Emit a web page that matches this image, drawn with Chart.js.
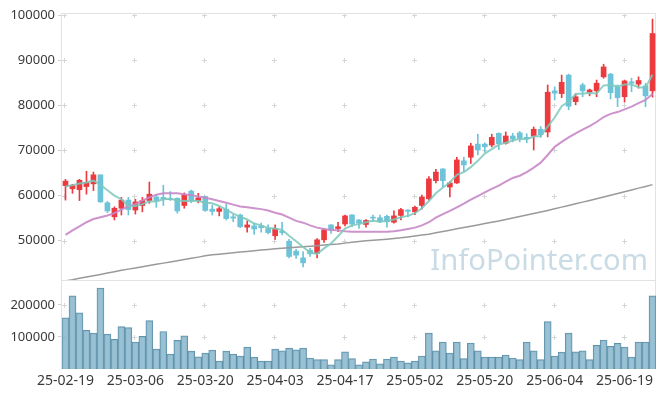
<!DOCTYPE html>
<html><head><meta charset="utf-8">
<script src="https://cdn.jsdelivr.net/npm/chart.js@4.4.1/dist/chart.umd.min.js"></script>
<style>html,body{margin:0;padding:0;background:#fff;overflow:hidden;}</style>
</head><body>
<canvas id="c" width="665" height="398" style="display:block;width:665px;height:398px"></canvas>
<script>
const dates = ['25-02-19','25-02-20','25-02-21','25-02-24','25-02-25','25-02-26','25-02-27','25-02-28',
'25-03-04','25-03-05','25-03-06','25-03-07','25-03-10','25-03-11','25-03-12','25-03-13','25-03-14','25-03-17','25-03-18','25-03-19','25-03-20','25-03-21','25-03-24','25-03-25','25-03-26','25-03-27','25-03-28','25-03-31',
'25-04-01','25-04-02','25-04-03','25-04-04','25-04-07','25-04-08','25-04-09','25-04-10','25-04-11','25-04-14','25-04-15','25-04-16','25-04-17','25-04-18','25-04-21','25-04-22','25-04-23','25-04-24','25-04-25','25-04-28','25-04-29','25-04-30',
'25-05-02','25-05-07','25-05-08','25-05-09','25-05-12','25-05-13','25-05-14','25-05-15','25-05-16','25-05-19','25-05-20','25-05-21','25-05-22','25-05-23','25-05-26','25-05-27','25-05-28','25-05-29','25-05-30',
'25-06-02','25-06-04','25-06-05','25-06-09','25-06-10','25-06-11','25-06-12','25-06-13','25-06-16','25-06-17','25-06-18','25-06-19','25-06-20','25-06-23','25-06-24','25-06-25'];

const openPrices = [62200,61500,61300,62000,62600,64600,58400,55300,57200,59000,56800,57800,58900,59700,59600,59300,59400,57800,61000,58900,
59800,57000,56500,57000,55300,55700,53000,53300,53300,52700,51100,52100,49900,47700,46200,47900,47200,50200,53500,52700,
53700,55700,54600,53600,55200,55100,55400,54100,55600,56800,56400,57800,59300,63300,65900,61900,62800,67700,68500,71400,
71400,71200,73800,71600,73200,73900,72900,73200,74700,74100,83200,82600,86700,80800,84500,82900,83200,86300,86900,84100,
81900,85200,84700,84300,83200];
const highPrices = [63600,62500,63600,65400,65200,64600,58700,57500,59600,59600,59200,59600,63000,60100,62300,60900,59500,60600,61200,60500,
59900,57900,57500,58100,55800,55900,54400,53900,53900,53500,53500,54100,50300,48100,47600,48300,50500,52700,53600,54100,
55700,55800,54700,54700,55700,55700,55700,56600,57200,56900,57700,60100,64200,65800,66000,63100,68500,68500,71600,73600,
71700,73600,73900,74100,73800,74200,73700,75200,75300,84500,84100,86700,86900,82600,84900,83600,85600,89100,87100,84500,
85600,86000,86300,84900,99100];
const lowPrices = [59000,60500,58900,60300,61100,58500,56200,54600,55700,55700,55900,56400,58300,57400,57800,58900,56100,57200,58400,58400,
56500,55700,55500,54600,54200,52900,51900,51400,51900,51500,50300,51300,46200,46100,44200,46500,46200,49600,51600,52000,
53300,53100,52700,53000,54200,54000,53000,53900,54600,55300,55800,57000,59000,62800,61900,59700,62700,65300,67100,69000,
69700,70800,70200,71400,71900,71900,71700,70100,72900,73000,81200,81700,79000,80100,81900,82100,81900,86000,81400,79700,
80700,83000,83800,79700,81800];
const closePrices = [63200,62300,63400,62900,64600,58600,56600,57200,59000,56900,58600,58900,60300,58900,59300,59100,56600,60100,58900,59500,
56700,56500,57100,54900,55000,53100,53500,52600,52900,51800,52700,51800,46500,46800,45100,47100,50200,52400,52400,53100,
55500,53700,53900,54500,55000,54200,54200,55500,56900,56500,57400,59700,63700,65200,63300,62800,67900,66800,71000,70100,
70800,72900,71500,73200,72500,72700,72600,74700,73500,82900,82700,85100,79800,81900,83200,83400,84900,88500,82800,81700,
85400,84900,85500,82100,95900];
const volumes = [160100,228500,175400,121100,111900,253000,108900,92600,132500,129400,84300,101800,150900,62000,117200,46600,89600,103700,55800,38300,
49700,58900,25100,55800,46600,40500,68100,37400,25100,25100,62000,56700,65000,59800,65000,34400,29100,29100,13300,29100,
53700,32200,12900,22100,31300,15900,31300,37400,25100,19000,25100,40500,111900,56700,84300,49700,84300,32200,81300,56700,
37400,37400,37400,43600,34400,29100,84300,56700,29100,147800,40500,52800,111900,53700,56700,29100,74200,90500,71200,80400,
68100,37400,84300,84300,228500];
const ma5 = [62000,62300,62700,62900,63300,62400,61200,60000,59200,57700,57700,58100,58700,58700,59200,59300,58900,58800,58800,58800,
58400,58300,57700,56900,56000,55300,54700,53800,53400,52800,52700,52400,51100,49900,48600,47400,47100,48300,49400,51000,
52700,53400,53700,54100,54500,54200,54400,54700,55200,55500,56100,57200,58800,60500,61800,62900,64600,65200,66300,67700,
69300,70300,71300,71700,72200,72600,72500,73100,73200,75300,77300,79800,80800,82500,82600,82700,82600,84400,84500,84200,
84600,84600,84000,83900,86800];
const ma20 = [51300,52300,53200,54100,54800,55200,55600,56100,56900,57600,58100,58900,59600,60200,60500,60500,60500,60300,60100,59800,
59500,59200,58800,58400,58000,57600,57400,57200,57000,56700,56200,55800,55100,54400,54000,53400,52900,52600,52400,52300,
52100,52000,52000,52000,52000,52000,52000,52100,52300,52600,52900,53400,54100,55100,55900,56600,57400,58200,59100,59900,
60700,61500,62200,63100,63900,64400,65200,66200,67300,69000,70800,71900,72900,73800,74600,75400,76300,77400,78100,78500,
79100,79700,80500,81200,82500];
const maLong = [41100,41360,41670,41960,42250,42540,42850,43130,43440,43710,43980,44240,44510,44770,45040,45300,45570,45840,46100,46370,
46660,46880,47030,47190,47320,47480,47630,47760,47920,48070,48210,48320,48430,48540,48650,48760,48890,49030,49160,49270,
49470,49650,49820,49980,50110,50220,50350,50490,50640,50840,51040,51260,51460,51750,52040,52330,52640,52920,53210,53500,
53810,54100,54390,54720,55050,55380,55720,56050,56380,56710,57070,57440,57820,58170,58550,58930,59300,59680,60080,60480,
60850,61250,61650,62030,62430];
const priceTicks = [50000,60000,70000,80000,90000,100000];
const volumeTicks = [100000,200000];

const RED = '#ec3a3f', BLUE = '#6dc3d8';
const candleColors = closePrices.map((c,i)=> c >= openPrices[i] ? RED : BLUE);
const FONT = '"Noto Sans", "DejaVu Sans", sans-serif';

const decor = {
  id: 'decor',
  beforeDatasetsDraw(chart) {
    const {ctx, chartArea: a, scales} = chart;
    const xS = scales.x, yS = scales.y, vS = scales.yv;
    ctx.save();
    const t = 'InfoPointer.com';
    ctx.font = '30px ' + FONT;
    const w = ctx.measureText(t).width;
    ctx.font = (30 * 218 / w).toFixed(1) + 'px ' + FONT;
    ctx.fillStyle = '#c9dbe5';
    ctx.textAlign = 'right';
    ctx.textBaseline = 'alphabetic';
    ctx.fillText(t, 648, 270);
    ctx.strokeStyle = '#d6d6d6';
    ctx.lineWidth = 1;
    ctx.beginPath();
    const xs = [];
    for (let i = 0; i < dates.length; i += 10) xs.push(Math.round(xS.getPixelForValue(i)) - 0.5);
    const ys = [];
    priceTicks.forEach(v => ys.push(Math.round(yS.getPixelForValue(v)) + 0.5));
    volumeTicks.forEach(v => ys.push(Math.round(vS.getPixelForValue(v)) + 0.5));
    xs.forEach(px => ys.forEach(py => {
      ctx.moveTo(px - 2.5, py); ctx.lineTo(px + 2.5, py);
      ctx.moveTo(px, py - 2.5); ctx.lineTo(px, py + 2.5);
    }));
    ctx.stroke();
    ctx.strokeStyle = '#e2e2e2';
    const L = Math.round(a.left) - 0.5, R = Math.round(a.right) - 0.5;
    ctx.strokeRect(L, Math.round(yS.top) + 0.5, R - L, Math.round(yS.bottom) - Math.round(yS.top));
    ctx.strokeRect(L, Math.round(vS.top) + 0.5, R - L, Math.round(vS.bottom) - Math.round(vS.top) - 1);
    ctx.restore();
  }
};

const yCommon = {
  position: 'left',
  border: {display: false},
  grid: {display: true, drawOnChartArea: false, drawTicks: true, tickLength: 4, color: '#cfcfcf'},
  ticks: {font: {family: FONT, size: 13}, color: '#3a3a3a', padding: 3, callback: v => String(v)},
  afterFit(s) { s.width = 62; }
};

new Chart(document.getElementById('c'), {
  type: 'bar',
  data: {
    labels: dates,
    datasets: [
      {type: 'line', label: 'MA5', data: ma5, yAxisID: 'y', borderColor: 'rgba(125,200,188,0.85)', borderWidth: 2, pointRadius: 0, tension: 0, order: 0},
      {type: 'line', label: 'MA20', data: ma20, yAxisID: 'y', borderColor: 'rgba(200,135,200,0.9)', borderWidth: 2, pointRadius: 0, tension: 0, order: 0},
      {type: 'line', label: 'MA60', data: maLong, yAxisID: 'y', borderColor: '#9a9a9a', borderWidth: 1.5, pointRadius: 0, tension: 0, order: 0},
      {label: 'body', data: openPrices.map((o,i)=>[o, closePrices[i]]), yAxisID: 'y', backgroundColor: candleColors, barThickness: 5, minBarLength: 1, grouped: false, order: 1},
      {label: 'wick', data: lowPrices.map((l,i)=>[l, highPrices[i]]), yAxisID: 'y', backgroundColor: candleColors, barThickness: 1, grouped: false, order: 2},
      {label: 'volume', data: volumes, yAxisID: 'yv', backgroundColor: 'rgba(140,184,205,0.88)', borderColor: 'rgba(80,135,162,0.9)', borderWidth: 1, barPercentage: 1, categoryPercentage: 1, grouped: false, order: 3}
    ]
  },
  options: {
    responsive: false,
    animation: false,
    devicePixelRatio: 1,
    layout: {padding: {top: 13, right: 9, left: 0, bottom: 0}},
    plugins: {legend: {display: false}, tooltip: {enabled: false}},
    scales: {
      x: {
        type: 'category', offset: true,
        border: {display: false},
        grid: {display: false, drawTicks: false},
        ticks: {autoSkip: false, maxRotation: 0, minRotation: 0, padding: 4, font: {family: FONT, size: 14}, color: '#3a3a3a',
          callback: (v, i) => (i % 10 === 0 ? dates[i] : '')},
        afterFit(s) { s.height = 29; }
      },
      y: Object.assign({}, yCommon, {
        stack: 'panels', stackWeight: 3, weight: 2, min: 41300, max: 100450,
        afterBuildTicks(s) { s.ticks = priceTicks.map(v => ({value: v})); }
      }),
      yv: Object.assign({}, yCommon, {
        stack: 'panels', stackWeight: 1, weight: 1, min: 0, max: 278000,
        afterBuildTicks(s) { s.ticks = volumeTicks.map(v => ({value: v})); }
      })
    }
  },
  plugins: [decor]
});
</script>
</body></html>
